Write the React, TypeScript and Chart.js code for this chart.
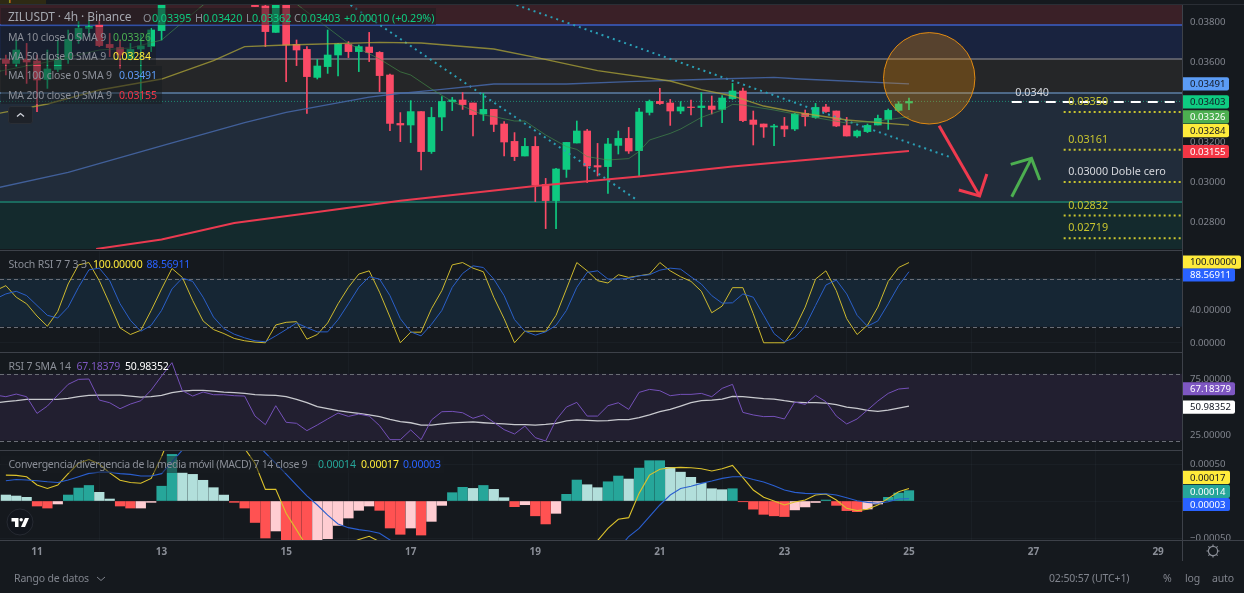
import React, { useEffect, useRef } from "react";
import { Chart, registerables } from "chart.js";

Chart.register(...registerables);

// ---------- data (prices in 1e-5 USDT, bar 0 = day 11, one bar = 4h) ----------
const firstBar = -3;
const barOpen = [3613,3593,3613,3605,3513,3563,3613,3715,3768,3785,3688,3672,3618,3665,3677,3757,
  null,null,null,null,null,null,null,null,
  3890,3880,3748,3900,3688,3663,3523,3577,3635,3688,3652,3675,3648,3535,3293,3285,
  3352,3152,3325,3402,3410,3395,3340,3363,3290,3203,3130,3178,2988,2907,3063,3195,3255,3082,3077,3183,3218,3157,3348,
  3403,3395,3355,3375,3372,3380,3363,3417,3455,3310,3290,3275,3280,3265,3343,3323,3375,3355,3282,3230,3252,3285,3313,3358,3395];
const barHigh = [3635,3710,3693,3635,3660,3710,3760,3802,3810,3810,3743,3710,3693,3735,3768,3990,
  null,null,null,null,null,null,null,null,
  3910,3900,3920,3920,3710,3677,3613,3760,3693,3702,3685,3748,3652,3540,3347,3407,
  3352,3373,3427,3423,3447,3395,3443,3363,3302,3247,3218,3227,3018,3068,3198,3305,3263,3193,3218,3255,3273,3368,3410,
  3468,3413,3402,3410,3447,3430,3432,3493,3470,3355,3290,3288,3323,3343,3360,3393,3388,3355,3323,3260,3290,3335,3365,3402,3420];
const barLow = [3535,3577,3493,3352,3468,3552,3593,3693,3727,3677,3627,3568,3610,3410,3652,3710,
  null,null,null,null,null,null,null,null,
  3877,3677,3748,3502,3582,3343,3515,3543,3530,3622,3552,3602,3452,3257,3202,3197,
  3060,3143,3257,3357,3363,3230,3307,3252,3130,3107,3130,2902,2767,2767,3023,3195,2997,3030,2943,3140,3143,3027,3335,
  3388,3283,3342,3335,3277,3340,3297,3413,3302,3185,3223,3182,3227,3257,3280,3318,3348,3277,3230,3223,3247,3285,3263,3352,3362];
const barClose = [3593,3660,3600,3510,3565,3613,3713,3768,3777,3682,3672,3635,3663,3680,3760,3960,
  null,null,null,null,null,null,null,null,
  3877,3752,3900,3685,3660,3527,3580,3635,3690,3652,3677,3647,3532,3293,3285,3352,
  3152,3323,3403,3410,3387,3337,3363,3288,3200,3127,3178,2985,2907,3065,3198,3255,3080,3075,3190,3218,3155,3350,3403,
  3392,3355,3375,3372,3380,3363,3420,3455,3307,3288,3275,3280,3265,3340,3327,3373,3352,3280,3230,3255,3283,3318,3358,3390,3403];

const ma10Bars = [-4,1,6,9,12,16,20,23,25,30,33,35,36,38,40,43,44,46,47,49,51,52,53,55,57,58,59,61,62,64,66,67,68,71,73,78,81,84];
const ma10 = [3550,3600,3660,3670,3710,3885,3990,3960,3890,3693,3615,3551,3535,3465,3402,3335,3327,3305,3305,3235,3177,3163,3127,3110,3117,3152,3210,3243,3265,3323,3360,3388,3385,3360,3340,3295,3305,3326];
const ma50Bars = [-4,1,6,12,17,20,24,33,37,44,48.5,54,61,64,67,70,73,78,84];
const ma50 = [3340,3390,3460,3515,3607,3677,3685,3698,3695,3665,3618,3557,3505,3462,3430,3380,3350,3310,3284];
const ma100Bars = [-4,3,12.5,20,24,32,35,39,44,51,57,65.5,71,73.5,84];
const ma100 = [2969,3048,3188,3297,3348,3424,3443,3463,3490,3490,3502,3515,3523,3515,3491];
const ma200Bars = [5.7,12,19,27,35,48,58,67,73.5,84];
const ma200 = [2665,2713,2795,2850,2906,2980,3027,3077,3107,3155];

const trendBars1 = [30.2,57.8];
const trend1 = [3885,2910];
const trendBars2 = [46.2,88.2];
const trend2 = [3885,3120];

const zonePrices = [3885,3785,3615,3445,2900,2665];
const zoneColors = ["#3a2027","#19233f","#252628","#212c3a","#142a2d"];
const zoneLineColors = ["#3b5fc9","#6f7178","#5d7fa6","#1b6a5e"];
const lastPrice = 3403;
const dashedLevel = { bar: 93.9, price: 3400, text: "0.0340" };
const levelStartBar = 98.9;
const levelEndBar = 110.2;
const levelPrices = [3350,3161,3000,2832,2719];
const levelTexts = ["0.03350","0.03161","0.03000 Doble cero","0.02832","0.02719"];
const levelTextColors = ["#c9c52f","#c9c52f","#d5d7dc","#c9c52f","#c9c52f"];
const circle = { bar: 85.95, price: 3518.5, radius: 228.5 };
const redArrowBars = [86.9,90.8];
const redArrow = [3281,2930];
const redHeadBars = [88.8,90.8,91.5];
const redHead = [2960,2930,3040];
const greenArrowBars = [93.9,95.8];
const greenArrow = [2926,3118];
const greenHeadBars = [93.8,95.8,96.6];
const greenHead = [3088,3118,3010];

const lineFirstBar = -4;
const stochK = [65,71.2,56.8,48.6,33.3,20.6,39.1,73.3,97.1,100,77.4,48.6,18.5,10.3,15.6,40.3,67.1,92.6,81.5,52.7,27.2,16.5,11.5,5.4,2.5,0.8,0,22.2,25.5,26.3,4.5,10.3,24.7,48.6,69.1,85.6,89.7,63,32.1,0,13.2,13.2,42.4,65,97.1,100,93,88.5,56.8,30,0,14.4,14.4,14.4,34.2,67.1,100,89.7,77.4,74.5,84.8,81.5,83.5,85.6,100,89.7,82.3,76.5,64.2,37.4,45.7,68.7,68.7,36.2,0,0,0,17.7,44.4,79.4,89.7,65,30,10.3,21.8,44.4,76.5,93.8,100];
const stochD = [54.7,60.9,64.2,58.8,46.5,34.2,30.9,44.4,69.1,90.9,93,77.4,48.6,28,14.4,21.8,40.3,67.1,80.7,76.5,56.8,32.1,17.7,10.7,6.2,2.5,1.2,8.6,16.5,24.7,18.9,13.6,13.6,28.8,48.6,69.1,82.3,79.4,58.8,30,13.6,8.6,23,40.3,69.1,86.4,95.9,93.8,79.4,58.8,28.8,14.4,9.5,13.6,21.8,40.3,69.1,87.7,89.7,79.4,79.4,80.2,83.5,84.8,90.5,93,91.8,82.3,73.2,58.8,49.4,49.8,60.9,56.8,34.2,11.5,1.2,6.6,20.6,46.5,72,78.2,60.9,34.2,20.6,27.2,48.6,71.2,88.57];
const rsi = [60.9,59.4,61.8,59.4,44.4,51,60.9,70.5,75,75.3,56.4,54,48.6,52.8,55.8,65.4,78,90,64.8,60,63.6,61.2,61.2,60.3,60,42,34.3,51.3,36.4,35.5,28.9,34,39.4,44.7,41.7,43.8,42,33.4,20.8,20.8,29.5,20.8,38.5,45.9,46.2,45,40,43,36.4,29.8,25.9,33,22.6,19.6,38.5,50.1,54.3,42,42,51.3,54,48,63.3,66,64.8,60.3,61.5,61.5,62.4,59.4,66.9,70.5,45.3,43,41.5,41.7,39.4,54.6,52.5,60.6,54.9,42,34.9,39.4,47.4,55.5,62.4,66.3,67.18];
const rsiSma = [54,54.9,55.8,57,57,57,57,57.9,59.4,60.6,60.9,60.9,60.9,60,59.1,59.4,60.6,63,64.5,65.1,65.1,64.5,63.6,63,62.4,61.2,60.9,60.6,59.4,57,54,50.4,48.6,46.8,45.6,44.4,43,41.5,39,37,36,33.9,33.9,34.9,35.8,36.4,36.7,36,35.5,34.9,34.3,34.3,33.9,34.5,35.5,37.6,38.5,38.2,37.6,37.9,38.8,38.8,40.6,43,45.9,48,51,54,55.8,56.4,57.3,59.7,59.4,58.5,57.6,57.3,55.8,54.6,54,54,53.7,52.2,50.1,48.9,47.1,46.2,47.4,49.2,50.98];

// MACD pane, in 1e-5
const macdHist = [8.1,6.75,5,-6.75,-9.5,-4,8.1,17.5,21,11.7,2.7,-6.75,-9.5,-9.5,-1.8,20,63,38,36,28,18,8,-1.8,-9.5,-29,-50,-40.5,-60,-70,-72,-58,-51,-33,-23,-12.6,-6.75,-12.6,-36.5,-45,-36.5,-46,-27.5,-5.9,11.25,18.5,17,21,15.75,4.5,-7.65,-5,-20,-31,-16.65,9,28.35,22,18,26,33.75,29.7,44.5,54.5,54.5,45.5,39,32,24,16.6,15.3,16.6,-1,-11,-18,-20,-21,-12,-8,-2,1.3,-5.9,-13,-14.4,-10.8,-4,5,10.8,14];
const macdLine = [35,34.6,32.8,21.6,17,21.6,37,51,56,50,38,28,25,24,30.6,60,95,null,null,null,null,null,null,71,51,15.75,15.75,-16.65,-39,-62,null,null,null,-58,-52,-47.7,-55,-65,null,null,null,null,null,null,null,null,null,null,null,null,null,null,null,null,null,null,null,-53.5,-37,-24.75,-22.5,10.35,35,43,45,45.5,45,43.65,40.5,43.65,48,31.5,14.85,5,0,-5.4,-1.35,1.35,8.1,9.45,1.35,-9.9,-13,-11.25,-5.4,3.6,12.6,17];
const macdSignal = [27.45,29,28.35,27.45,26,25,28.35,32.85,37.35,39,39,37,36,33.75,33.75,37,53,68.85,85,null,null,null,null,null,80,65,51,36.5,21.6,7,-5.4,-19,-31,-36,-38.7,-40.5,-43.65,-52.65,-65,null,null,null,null,null,null,null,null,null,null,null,null,null,null,null,null,null,null,null,null,-65,-48,-37,-21,-5.4,8.1,17,20,23.85,27,30.6,32.85,32.85,29,25.65,20.7,14.85,11.7,10.35,9.9,9.9,8.1,4.5,0.45,-1.8,-3,-0.9,2.7,3];

const dayTickBars = [0,12,24,36,48,60,72,84,96,108];
const dayLabels = ["11","13","15","17","19","21","23","25","27","29"];
const priceTicks = [3800,3600,3400,3200,3000,2800];
const stochTicks = [0,40,80];
const rsiTicks = [25,50,75];
const macdTicks = [-50,0,50];

// ---------- look ----------
const FONT = '"Noto Sans", sans-serif';
const BG = "#15191e";
const GREEN = "#0ecb81";
const RED = "#fb4a66";
const XMIN = -3.565;
const XMAX = 110.3;
const TICK_COL = "#80848d";
const GRID = "rgba(120,130,150,0.06)";

const pts = (bars: number[], vals: any[]) => bars.map((x, i) => ({ x, y: vals[i] }));
const seq = (from: number, vals: any[]) => vals.map((y, i) => ({ x: from + i, y }));

function line(data: any[], color: string, width = 1, extra: any = {}) {
  return { type: "line", data, borderColor: color, borderWidth: width, pointRadius: 0, tension: 0, spanGaps: true, order: 0, ...extra };
}

type Tag = { value: number; text: string; bg: string; fg: string; dy: number; w: number };

function tagsPlugin(tags: Tag[]) {
  return {
    id: "tags",
    afterDraw(chart: any) {
      const ctx = chart.ctx;
      const y = chart.scales.y;
      ctx.save();
      ctx.font = `9.6px ${FONT}`;
      ctx.textBaseline = "middle";
      ctx.textAlign = "left";
      for (const t of tags) {
        const c = y.getPixelForValue(t.value) + t.dy;
        ctx.fillStyle = t.bg;
        ctx.beginPath();
        ctx.roundRect(1182, c - 6.6, t.w, 13.2, [0, 2, 2, 0]);
        ctx.fill();
        ctx.fillStyle = t.fg;
        ctx.fillText(t.text, 1190, c + 0.5);
      }
      ctx.restore();
    },
  };
}

function bandPlugin(from: number, to: number, color: string, dashes: number[]) {
  return {
    id: "band",
    beforeDatasetsDraw(chart: any) {
      const { ctx, chartArea: a, scales } = chart;
      const y = scales.y;
      ctx.save();
      ctx.fillStyle = color;
      ctx.fillRect(a.left, y.getPixelForValue(to), a.right - a.left, y.getPixelForValue(from) - y.getPixelForValue(to));
      ctx.strokeStyle = "#6a6d75";
      ctx.lineWidth = 1;
      ctx.setLineDash([4, 3]);
      for (const d of dashes) {
        const p = Math.round(y.getPixelForValue(d)) + 0.5;
        ctx.beginPath();
        ctx.moveTo(a.left, p);
        ctx.lineTo(a.right, p);
        ctx.stroke();
      }
      ctx.restore();
    },
  };
}

const zonesPlugin = {
  id: "zones",
  beforeDatasetsDraw(chart: any) {
    const { ctx, chartArea: a, scales } = chart;
    const y = scales.y;
    ctx.save();
    for (let i = 0; i < zoneColors.length; i++) {
      const t = y.getPixelForValue(zonePrices[i] / 1e5);
      const b = y.getPixelForValue(zonePrices[i + 1] / 1e5);
      ctx.fillStyle = zoneColors[i];
      ctx.fillRect(a.left, t, a.right - a.left, b - t);
    }
    zoneLineColors.forEach((c, i) => {
      const p = y.getPixelForValue(zonePrices[i + 1] / 1e5);
      ctx.strokeStyle = c;
      ctx.lineWidth = i === 3 ? 2 : 1.3;
      ctx.beginPath();
      ctx.moveTo(a.left, p);
      ctx.lineTo(a.right, p);
      ctx.stroke();
    });
    // last price dotted
    const lp = y.getPixelForValue(lastPrice / 1e5);
    ctx.strokeStyle = "#1f8a72";
    ctx.lineWidth = 1;
    ctx.setLineDash([1, 2]);
    ctx.beginPath();
    ctx.moveTo(a.left, lp);
    ctx.lineTo(a.right, lp);
    ctx.stroke();
    ctx.restore();
  },
};

const drawingsPlugin = {
  id: "drawings",
  afterDatasetsDraw(chart: any) {
    const { ctx, scales } = chart;
    const x = scales.x;
    const y = scales.y;
    ctx.save();
    // circle
    const cx = x.getPixelForValue(circle.bar);
    const cy = y.getPixelForValue(circle.price / 1e5);
    const r = Math.abs(y.getPixelForValue((circle.price + circle.radius) / 1e5) - cy);
    ctx.beginPath();
    ctx.arc(cx, cy, r, 0, Math.PI * 2);
    ctx.fillStyle = "rgba(255,152,0,0.27)";
    ctx.fill();
    ctx.strokeStyle = "#e08a12";
    ctx.lineWidth = 1;
    ctx.stroke();
    // texts
    ctx.font = `10.8px ${FONT}`;
    ctx.textBaseline = "middle";
    ctx.textAlign = "left";
    ctx.fillStyle = "#d5d7dc";
    ctx.fillText(dashedLevel.text, x.getPixelForValue(dashedLevel.bar) + 3.5, y.getPixelForValue(dashedLevel.price / 1e5) - 9.5);
    levelPrices.forEach((p, i) => {
      ctx.fillStyle = levelTextColors[i];
      ctx.fillText(levelTexts[i], x.getPixelForValue(levelStartBar) + 4.5, y.getPixelForValue(p / 1e5) - 9.8);
    });
    ctx.restore();
  },
};

function yAxis(min: number, max: number, ticks: number[], fmt: (v: number) => string) {
  return {
    type: "linear",
    position: "right",
    min,
    max,
    afterFit(s: any) {
      s.width = 62;
      s.paddingTop = 0;
      s.paddingBottom = 0;
    },
    afterBuildTicks(s: any) {
      s.ticks = ticks.map((value) => ({ value }));
    },
    border: { display: false },
    grid: { color: GRID, drawTicks: false },
    ticks: { color: TICK_COL, padding: 8, font: { family: FONT, size: 9.6 }, callback: (v: any) => fmt(Number(v)), autoSkip: false, maxRotation: 0 },
  };
}

function xAxis(showLabels: boolean) {
  return {
    type: "linear",
    min: XMIN,
    max: XMAX,
    offset: false,
    afterBuildTicks(s: any) {
      s.ticks = dayTickBars.map((value) => ({ value }));
    },
    afterFit(s: any) {
      s.height = showLabels ? 25 : 0;
      s.paddingLeft = 0;
      s.paddingRight = 0;
    },
    border: { display: false },
    grid: { color: GRID, drawTicks: false },
    ticks: {
      display: showLabels,
      color: "#8a8e97",
      padding: 6,
      font: { family: FONT, size: 10, weight: "bold" },
      autoSkip: false,
      maxRotation: 0,
      callback: (v: any) => dayLabels[dayTickBars.indexOf(Number(v))] ?? "",
    },
  };
}

function make(canvas: HTMLCanvasElement, datasets: any[], min: number, max: number, ticks: number[], fmt: (v: number) => string, plugins: any[], padding: any, showX = false) {
  return new Chart(canvas, {
    type: "bar",
    data: { datasets },
    plugins,
    options: {
      animation: false,
      responsive: false,
      maintainAspectRatio: false,
      devicePixelRatio: 1,
      layout: { padding: { left: 0, right: 0, top: 0, bottom: 0, ...padding } },
      plugins: { legend: { display: false }, tooltip: { enabled: false } },
      events: [],
      scales: { x: xAxis(showX), y: yAxis(min, max, ticks, fmt) },
    },
  } as any);
}

const Legend = ({ top, items, size = 10.5, spacing = -0.15 }: { top: number; items: [number, string, string][]; size?: number; spacing?: number }) => (
  <>
    {items.map(([left, text, color], i) => (
      <span key={i} style={{ position: "absolute", left, top: top - 8, lineHeight: "16px", height: 16, fontSize: size, letterSpacing: spacing, whiteSpace: "pre", color, fontFamily: FONT }}>
        {text}
      </span>
    ))}
  </>
);

const LABEL = "#8b8f98";

export default function App() {
  const a = useRef<HTMLCanvasElement>(null);
  const b = useRef<HTMLCanvasElement>(null);
  const c = useRef<HTMLCanvasElement>(null);
  const d = useRef<HTMLCanvasElement>(null);

  useEffect(() => {
    document.body.style.margin = "0";
    document.body.style.background = BG;

    const idx = barOpen.map((_, i) => firstBar + i);
    const valid = idx.map((_, i) => i).filter((i) => barOpen[i] !== null);
    const cols = (i: number) => ((barClose[i] as number) >= (barOpen[i] as number) ? GREEN : RED);
    const p = (arr: number[]) => arr.map((v) => v / 1e5);
    const m = (bars: number[], arr: number[]) => pts(bars, p(arr));

    const main = make(
      a.current!,
      [
        { type: "bar", data: valid.map((i) => ({ x: idx[i], y: [(barLow[i] as number) / 1e5, (barHigh[i] as number) / 1e5] })), backgroundColor: valid.map(cols), barThickness: 1, grouped: false, order: 3 },
        { type: "bar", data: valid.map((i) => ({ x: idx[i], y: [(barOpen[i] as number) / 1e5, (barClose[i] as number) / 1e5] })), backgroundColor: valid.map(cols), barThickness: 7, grouped: false, order: 2 },
        line(m(ma10Bars, ma10), "rgba(70,150,75,0.6)", 1),
        line(m(ma50Bars, ma50), "rgba(175,165,55,0.75)", 1.3),
        line(m(ma100Bars, ma100), "rgba(70,105,170,0.85)", 1.3),
        line(m(ma200Bars, ma200), "#ea3a50", 2),
        line(m(trendBars1, trend1), "#2a9fb5", 2, { borderDash: [2, 4] }),
        line(m(trendBars2, trend2), "#2a9fb5", 2, { borderDash: [2, 4] }),
        line(m([dashedLevel.bar, levelEndBar], [dashedLevel.price, dashedLevel.price]), "#ffffff", 2, { borderDash: [10, 7] }),
        ...levelPrices.map((lv) => line(m([levelStartBar, levelEndBar], [lv, lv]), "#c9c52f", 2, { borderDash: [2, 3] })),
        line(m(redArrowBars, redArrow), "#ef3a4e", 3),
        line(m(redHeadBars, redHead), "#ef3a4e", 3),
        line(m(greenArrowBars, greenArrow), "#4caf50", 3),
        line(m(greenHeadBars, greenHead), "#4caf50", 3),
      ],
      2665 / 1e5,
      3885 / 1e5,
      p(priceTicks),
      (v) => v.toFixed(5),
      [
        zonesPlugin,
        drawingsPlugin,
        tagsPlugin([
          { value: 0.03491, text: "0.03491", bg: "#5b9cf6", fg: "#131722", dy: 0, w: 47 },
          { value: 0.03403, text: "0.03403", bg: "#0ecb81", fg: "#131722", dy: 0.5, w: 47 },
          { value: 0.03326, text: "0.03326", bg: "#4caf50", fg: "#ffffff", dy: 0, w: 47 },
          { value: 0.03284, text: "0.03284", bg: "#ffeb3b", fg: "#131722", dy: 5.5, w: 47 },
          { value: 0.03155, text: "0.03155", bg: "#f23645", fg: "#ffffff", dy: 0.5, w: 47 },
        ]),
      ],
      { top: 5, bottom: 1 }
    );

    const stoch = make(
      b.current!,
      [line(seq(lineFirstBar, stochD), "#2a5fc9", 1), line(seq(lineFirstBar, stochK), "#cdb92e", 1)],
      -11.5,
      114.4,
      stochTicks,
      (v) => v.toFixed(5),
      [
        bandPlugin(20, 80, "#162634", [20, 80]),
        tagsPlugin([
          { value: 100, text: "100.00000", bg: "#ffeb3b", fg: "#131722", dy: -0.5, w: 59 },
          { value: 88.56911, text: "88.56911", bg: "#2962ff", fg: "#ffffff", dy: 3.3, w: 53 },
        ]),
      ],
      {}
    );

    const rsiChart = make(
      c.current!,
      [line(seq(lineFirstBar, rsi), "#7450b8", 1), line(seq(lineFirstBar, rsiSma), "#c8c9ce", 1.3)],
      11.5,
      98.7,
      rsiTicks,
      (v) => v.toFixed(5),
      [
        bandPlugin(20, 80, "#221f30", [20, 80]),
        tagsPlugin([
          { value: 67.18379, text: "67.18379", bg: "#7e57c2", fg: "#ffffff", dy: 0.7, w: 53 },
          { value: 50.98352, text: "50.98352", bg: "#ffffff", fg: "#131722", dy: 1, w: 53 },
        ]),
      ],
      {}
    );

    const lastPaint = {
      id: "axisMask",
      afterDraw(chart: any) {
        const ctx = chart.ctx;
        ctx.save();
        ctx.fillStyle = BG;
        ctx.fillRect(1183, chart.chartArea.bottom, 61, 4);
        ctx.restore();
      },
    };
    const pos = "#26a69a";
    const posLight = "#b2dfdb";
    const neg = "#ff5252";
    const negLight = "#ffcdd2";
    const histCols = macdHist.map((v, i) => {
      const prev = i === 0 ? Infinity : macdHist[i - 1];
      if (v >= 0) return v >= prev ? pos : posLight;
      return v < prev ? neg : negLight;
    });
    const macd = make(
      d.current!,
      [
        { type: "bar", data: seq(firstBar, macdHist), backgroundColor: histCols, barThickness: 9.6, grouped: false, order: 2 },
        line(seq(firstBar, macdSignal), "#2a5fd0", 1.1),
        line(seq(firstBar, macdLine), "#dcc22c", 1.1),
      ],
      -52.7,
      67.6,
      macdTicks,
      (v) => (v === 0 ? "0.00000" : (v < 0 ? "\u2212" : "") + Math.abs(v / 1e5).toFixed(5)),
      [
        lastPaint,
        tagsPlugin([
          { value: 17, text: "0.00017", bg: "#ffeb3b", fg: "#131722", dy: -11, w: 48 },
          { value: 14, text: "0.00014", bg: "#26a69a", fg: "#ffffff", dy: 0.7, w: 48 },
          { value: 3, text: "0.00003", bg: "#2962ff", fg: "#ffffff", dy: 5.7, w: 48 },
        ]),
      ],
      {},
      true
    );

    return () => {
      main.destroy();
      stoch.destroy();
      rsiChart.destroy();
      macd.destroy();
    };
  }, []);

  const cv = (top: number, height: number, ref: any) => (
    <canvas ref={ref} width={1244} height={height} style={{ position: "absolute", left: 0, top, width: 1244, height, display: "block" }} />
  );
  const rule = (left: number, top: number, width: number, height: number, background = "#3d4149") => (
    <div style={{ position: "absolute", left, top, width, height, background }} />
  );
  const legendBg = (top: number, width: number, height: number) => (
    <div style={{ position: "absolute", left: 1, top, width, height, background: "rgba(24,27,32,0.5)" }} />
  );

  return (
    <div style={{ position: "fixed", left: 0, top: 0, width: 1244, height: 593, background: BG, overflow: "hidden", fontFamily: FONT }}>
      {cv(0, 250, a)}
      {cv(251, 101, b)}
      {cv(353, 97, c)}
      {cv(451, 114, d)}

      <div style={{ position: "absolute", left: 0, top: 0, width: 46, height: 4, background: "#2e2a14", overflow: "hidden" }}>
        <span style={{ position: "absolute", left: 2, top: -12, fontSize: 11, color: "#d9a520", whiteSpace: "pre" }}>apa / 1...</span>
      </div>

      {rule(0, 4, 1244, 1, "#2a2e35")}
      {rule(0, 250, 1183, 1)}
      {rule(0, 352, 1183, 1)}
      {rule(0, 450, 1183, 1)}
      {rule(0, 540, 1244, 1)}
      {rule(1182, 5, 1, 556)}

      {legendBg(8, 435, 17)}
      {legendBg(27, 150, 19)}
      {legendBg(46, 155, 19)}
      {legendBg(66, 161, 19)}
      {legendBg(85, 161, 19)}
      {legendBg(456, 443, 17)}

      <Legend top={17} size={12} spacing={-0.1} items={[[8, "ZILUSDT \u00b7 4h \u00b7 Binance", "#a4a7af"]]} />
      <Legend top={18} size={10.8} spacing={-0.1} items={[[143, "O", LABEL], [152, "0.03395", GREEN], [195, "H", LABEL], [203, "0.03420", GREEN], [246, "L", LABEL], [252, "0.03362", GREEN], [294, "C", LABEL], [301, "0.03403", GREEN], [344, "+0.00010 (+0.29%)", GREEN]]} />
      <Legend top={37} items={[[8, "MA 10 close 0 SMA 9", LABEL], [113, "0.03326", "#4caf50"]]} />
      <Legend top={56} items={[[8, "MA 50 close 0 SMA 9", LABEL], [113, "0.03284", "#ffeb3b"]]} />
      <Legend top={75} items={[[8, "MA 100 close 0 SMA 9", LABEL], [119, "0.03491", "#5b9cf6"]]} />
      <Legend top={95} items={[[8, "MA 200 close 0 SMA 9", LABEL], [119, "0.03155", "#f23645"]]} />

      <div style={{ position: "absolute", left: 8, top: 106, width: 23, height: 16, background: "#1e2229", border: "1px solid #2a2e35", borderRadius: 3 }}>
        <svg width="23" height="16" style={{ display: "block" }}>
          <path d="M8 9.5 L11.5 6.5 L15 9.5" fill="none" stroke="#d1d4dc" strokeWidth="1.3" />
        </svg>
      </div>

      <Legend top={263.5} items={[[8.5, "Stoch RSI 7 7 3 3", LABEL], [93, "100.00000", "#ffeb3b"], [146.5, "88.56911", "#2962ff"]]} />
      <Legend top={366} items={[[8.5, "RSI 7 SMA 14", LABEL], [76.5, "67.18379", "#7e57c2"], [125, "50.98352", "#ffffff"]]} />
      <Legend top={464} spacing={-0.3} items={[[8.5, "Convergencia/divergencia de la media m\u00f3vil (MACD) 7 14 close 9", LABEL]]} />
      <Legend top={464} items={[[318, "0.00014", "#26a69a"], [361, "0.00017", "#ffeb3b"], [403, "0.00003", "#2962ff"]]} />

      <svg width="28" height="28" style={{ position: "absolute", left: 6, top: 508 }}>
        <circle cx="14" cy="14" r="13" fill="#12161d" stroke="#262a32" />
        <path d="M5.5 10 H12.5 V19 H9 V13.5 H5.5 Z" fill="#ffffff" />
        <circle cx="15.2" cy="11.7" r="1.7" fill="#ffffff" />
        <path d="M19 10 H23 L19 19 H15 Z" fill="#ffffff" />
      </svg>

      <svg width="16" height="16" style={{ position: "absolute", left: 1205, top: 543 }} viewBox="0 0 16 16">
        <circle cx="8" cy="8" r="4.6" fill="none" stroke="#8a8e97" strokeWidth="1.2" />
        <path d="M8 1.5 V3.4 M8 12.6 V14.5 M1.5 8 H3.4 M12.6 8 H14.5 M3.4 3.4 L4.7 4.7 M11.3 11.3 L12.6 12.6 M3.4 12.6 L4.7 11.3 M11.3 4.7 L12.6 3.4" stroke="#8a8e97" strokeWidth="1.2" />
      </svg>

      <Legend top={578} items={[[14, "Rango de datos", "#80848d"], [1049, "02:50:57 (UTC+1)", "#80848d"], [1163, "%", "#80848d"], [1185, "log", "#80848d"], [1212, "auto", "#80848d"]]} />
      <svg width="10" height="6" style={{ position: "absolute", left: 96, top: 576 }}>
        <path d="M1 1 L5 4.5 L9 1" fill="none" stroke="#80848d" strokeWidth="1" />
      </svg>
    </div>
  );
}
